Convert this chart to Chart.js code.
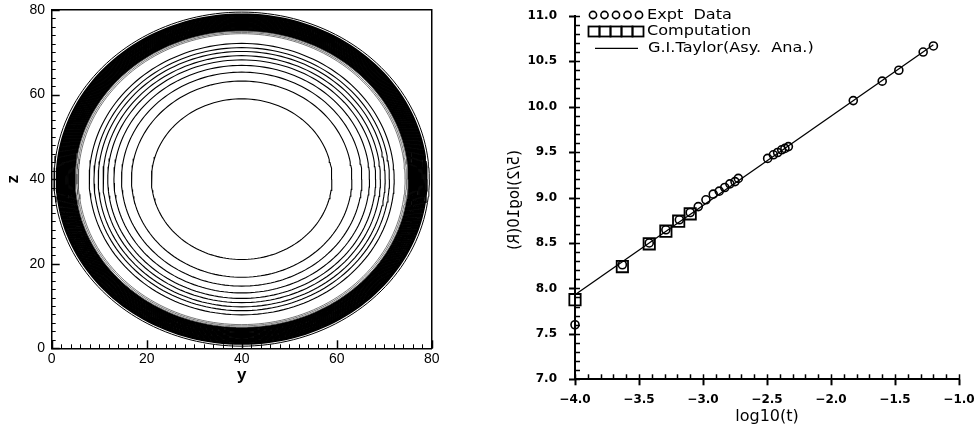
<!DOCTYPE html>
<html>
<head>
<meta charset="utf-8">
<script src="https://cdn.jsdelivr.net/npm/chart.js@4.4.0/dist/chart.umd.min.js"></script>
<style>
html, body { margin: 0; padding: 0; background: #fff; }
#wrap { position: relative; width: 979px; height: 433px; }
#contour { position: absolute; left: 0; top: 0; }
#taylor { position: absolute; left: 480px; top: 0; }
</style>
</head>
<body>
<div id="wrap">
  <canvas id="contour" width="470" height="433"></canvas>
  <canvas id="taylor" width="499" height="433"></canvas>
</div>
<script>
// left panel: contour levels read as radii around the centre (y, z)
var contourCentre = [40, 40];
var contourRadii = [19.0, 23.2, 25.3, 26.9, 28.2, 29.2, 30.2, 31.1, 32.1];
var faintRadii = [34.4, 34.7, 35.0];
var bandRadii = [35.2, 35.4, 35.6, 35.8, 36.0, 36.2, 36.4, 36.6, 36.8, 37.0, 37.2, 37.4, 37.6, 37.8, 38.0, 38.2, 38.4, 38.6, 38.8, 39.0];
var outerRadii = [39.5];

// right panel
var exptT = [-4.0, -3.63, -3.42, -3.29, -3.185, -3.10, -3.037, -2.977, -2.92, -2.873, -2.83, -2.79, -2.75, -2.724,
             -2.495, -2.45, -2.417, -2.385, -2.36, -2.333, -1.826, -1.60, -1.47, -1.28, -1.20];
var exptR = [7.60, 8.26, 8.50, 8.645, 8.755, 8.835, 8.90, 8.975, 9.037, 9.07, 9.11, 9.15, 9.175, 9.21,
             9.43, 9.47, 9.495, 9.525, 9.54, 9.56, 10.066, 10.28, 10.40, 10.60, 10.667];
var compT = [-4.0, -3.63, -3.42, -3.29, -3.19, -3.10];
var compR = [7.876, 8.24, 8.49, 8.63, 8.74, 8.82];
var taylorT = [-4.0, -1.2];
var taylorR = [7.93, 10.68];

function ring(r) {
  var pts = [];
  for (var i = 0; i <= 180; i++) {
    var a = i / 180 * 2 * Math.PI;
    pts.push({ x: contourCentre[0] + r * Math.cos(a), y: contourCentre[1] + r * Math.sin(a) });
  }
  return pts;
}

function ringSets(radii, width, color) {
  return radii.map(function (r) {
    return { data: ring(r), showLine: true, pointRadius: 0, borderColor: color, borderWidth: width, fill: false };
  });
}

function pairs(xs, ys) {
  return xs.map(function (x, i) { return { x: x, y: ys[i] }; });
}

// tick marks drawn from the scales' own ticks; length > 0 points into the plot, < 0 outwards
var tickMarks = {
  id: 'tickMarks',
  afterDraw: function (chart, args, opts) {
    var ctx = chart.ctx, area = chart.chartArea;
    ctx.save();
    ctx.strokeStyle = '#000';
    opts.marks.forEach(function (m) {
      var scale = chart.scales[m.scale];
      ctx.lineWidth = m.width;
      scale.ticks.forEach(function (t) {
        var p = Math.round(scale.getPixelForValue(t.value)) + 0.5;
        ctx.beginPath();
        if (scale.isHorizontal()) {
          ctx.moveTo(p, area.bottom);
          ctx.lineTo(p, area.bottom - m.length);
        } else {
          ctx.moveTo(area.left, p);
          ctx.lineTo(area.left + m.length, p);
        }
        ctx.stroke();
      });
    });
    ctx.restore();
  }
};

function hiddenAxis(pos, min, max, step, size) {
  return {
    type: 'linear', position: pos, min: min, max: max, weight: 0,
    afterFit: function (s) { if (s.isHorizontal()) { s.height = size; } else { s.width = size; } },
    ticks: { stepSize: step, display: false },
    grid: { display: false },
    border: { display: false }
  };
}

// invisible library ticks only set the gap between axis line and labels
function gapGrid(gap) {
  return { display: true, drawOnChartArea: false, drawTicks: true, tickLength: gap, tickColor: 'rgba(0,0,0,0)' };
}

var labelFont = { family: 'Liberation Sans', size: 14 };

new Chart(document.getElementById('contour').getContext('2d'), {
  type: 'scatter',
  data: {
    datasets: [].concat(
      ringSets(contourRadii, 1.1, '#000'),
      ringSets(faintRadii, 0.8, '#555'),
      ringSets(bandRadii, 1.6, '#000'),
      ringSets(outerRadii, 1, '#000')
    )
  },
  options: {
    responsive: false,
    animation: false,
    layout: { padding: { left: 0, top: 10, right: 38.3, bottom: 47.8 } },
    plugins: {
      legend: { display: false },
      tooltip: { enabled: false },
      tickMarks: { marks: [
        { scale: 'x', length: 8, width: 1.5 }, { scale: 'xMinor', length: 4, width: 1 },
        { scale: 'y', length: 8, width: 1.5 }, { scale: 'yMinor', length: 4, width: 1 }
      ] }
    },
    elements: { line: { tension: 0 } },
    scales: {
      x: {
        type: 'linear', position: 'bottom', min: 0, max: 80, weight: 1,
        afterFit: function (s) { s.height = 36.9; },
        ticks: { stepSize: 20, autoSkip: false, padding: 0, color: '#000', font: labelFont },
        grid: gapGrid(2.3),
        border: { display: true, color: '#000', width: 1.5 },
        title: { display: true, text: 'y', color: '#000', padding: 0, font: { family: 'Liberation Sans', size: 17, weight: 'bold' } }
      },
      xMinor: hiddenAxis('bottom', 0, 80, 2, 0),
      xTop: {
        type: 'linear', position: 'top', min: 0, max: 80,
        afterFit: function (s) { s.height = 0; },
        ticks: { display: false }, grid: { display: false },
        border: { display: true, color: '#000', width: 1.5 }
      },
      y: {
        type: 'linear', position: 'left', min: 0, max: 80, weight: 1,
        afterFit: function (s) { s.width = 51.7; },
        ticks: { stepSize: 20, autoSkip: false, padding: 0, color: '#000', font: labelFont },
        grid: gapGrid(6.7),
        border: { display: true, color: '#000', width: 1.5 },
        title: { display: true, text: 'z', color: '#000', padding: { top: 2.8, bottom: 0 }, font: { family: 'Liberation Sans', size: 17, weight: 'bold' } }
      },
      yMinor: hiddenAxis('left', 0, 80, 2, 0),
      yRight: {
        type: 'linear', position: 'right', min: 0, max: 80,
        afterFit: function (s) { s.width = 0; },
        ticks: { display: false }, grid: { display: false },
        border: { display: true, color: '#000', width: 1.5 }
      }
    }
  },
  plugins: [tickMarks]
});

// legend and mirrored y title for the right panel
var taylorDecor = {
  id: 'taylorDecor',
  afterDraw: function (chart) {
    var ctx = chart.ctx;
    ctx.save();
    ctx.strokeStyle = '#000';
    ctx.fillStyle = '#000';
    ctx.lineWidth = 1.6;
    var i;
    for (i = 0; i < 5; i++) {
      ctx.beginPath();
      ctx.arc(113 + i * 11.5, 15, 3.6, 0, 2 * Math.PI);
      ctx.stroke();
    }
    ctx.lineWidth = 1.8;
    for (i = 0; i < 5; i++) {
      ctx.strokeRect(108.5 + i * 11, 26.5, 11, 10);
    }
    ctx.beginPath();
    ctx.moveTo(115, 48.3);
    ctx.lineTo(158, 48.3);
    ctx.lineWidth = 1.2;
    ctx.stroke();

    ctx.font = '14px "DejaVu Sans"';
    ctx.textBaseline = 'middle';
    ctx.textAlign = 'left';
    var rows = [['Expt  Data', 167, 15], ['Computation', 167, 31.5], ['G.I.Taylor(Asy.  Ana.)', 168, 48.5]];
    rows.forEach(function (r) {
      ctx.save();
      ctx.translate(r[1], r[2]);
      ctx.scale(1.15, 1);
      ctx.fillText(r[0], 0, 0);
      ctx.restore();
    });

    ctx.save();
    ctx.translate(35, 200);
    ctx.rotate(-Math.PI / 2);
    ctx.scale(-1, 1);
    ctx.textAlign = 'center';
    ctx.font = '15px "DejaVu Sans"';
    ctx.fillText('(5/2)log10(R)', 0, 0);
    ctx.restore();
    ctx.restore();
  }
};

function fmt(v) { return v.toFixed(1).replace('-', '\u2212'); }
var tickFont = { family: 'DejaVu Sans', size: 12, weight: 'bold' };

new Chart(document.getElementById('taylor').getContext('2d'), {
  type: 'scatter',
  data: {
    datasets: [
      { label: 'G.I.Taylor(Asy. Ana.)', data: pairs(taylorT, taylorR), showLine: true, pointRadius: 0,
        borderColor: '#000', borderWidth: 1.3, clip: false },
      { label: 'Computation', data: pairs(compT, compR), pointStyle: 'rect', pointRadius: 8,
        borderColor: '#000', borderWidth: 1.8, backgroundColor: 'rgba(0,0,0,0)', clip: false },
      { label: 'Expt Data', data: pairs(exptT, exptR), pointStyle: 'circle', pointRadius: 4,
        borderColor: '#000', borderWidth: 1.6, backgroundColor: 'rgba(0,0,0,0)', clip: false }
    ]
  },
  options: {
    responsive: false,
    animation: false,
    layout: { padding: { left: 0, top: 15.7, right: 20, bottom: 6.4 } },
    plugins: {
      legend: { display: false },
      tooltip: { enabled: false },
      tickMarks: { marks: [
        { scale: 'x', length: -6, width: 2 }, { scale: 'xMinor', length: 5, width: 1.5 },
        { scale: 'y', length: -6, width: 2 }, { scale: 'yMinor', length: 5, width: 1.5 }
      ] }
    },
    scales: {
      x: {
        type: 'linear', position: 'bottom', min: -4, max: -1, weight: 1,
        afterFit: function (s) { s.height = 47.3; },
        ticks: { stepSize: 0.5, autoSkip: false, padding: 0, color: '#000', font: tickFont, callback: fmt },
        grid: gapGrid(13.5),
        border: { display: true, color: '#000', width: 2 },
        title: { display: true, text: 'log10(t)', color: '#000', padding: 0, font: { family: 'DejaVu Sans', size: 16 } }
      },
      xMinor: hiddenAxis('bottom', -4, -1, 0.1, 0),
      y: {
        type: 'linear', position: 'left', min: 7, max: 11, weight: 1,
        afterFit: function (s) { s.width = 95; },
        ticks: { stepSize: 0.5, autoSkip: false, padding: 0, color: '#000', font: tickFont, callback: fmt },
        grid: gapGrid(18),
        border: { display: true, color: '#000', width: 2 }
      },
      yMinor: hiddenAxis('left', 7, 11, 0.1, 0)
    }
  },
  plugins: [tickMarks, taylorDecor]
});
</script>
</body>
</html>
